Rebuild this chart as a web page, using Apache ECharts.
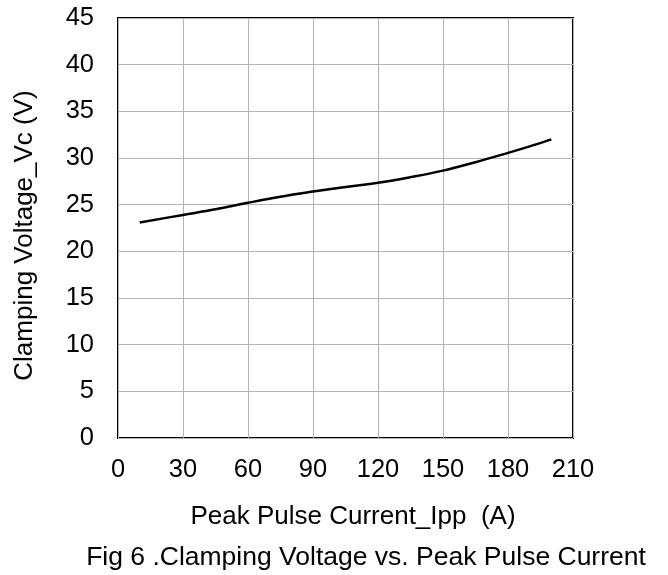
<!DOCTYPE html>
<html>
<head>
<meta charset="utf-8">
<script src="https://cdn.jsdelivr.net/npm/echarts@6/dist/echarts.min.js"></script>
<style>
html,body{margin:0;padding:0;background:#fff;}
#chart{width:668px;height:575px;}
</style>
</head>
<body>
<div id="chart"></div>
<script>
const currentA = [10, 30, 45, 60, 75, 90, 105, 120, 135, 150, 165, 180, 190, 200];
const voltageV = [23.1, 23.9, 24.5, 25.2, 25.85, 26.4, 26.9, 27.35, 27.95, 28.65, 29.55, 30.55, 31.25, 32.0];
const xTitle = 'Peak Pulse Current_Ipp  (A)';
const yTitle = 'Clamping Voltage_Vc (V)';
const caption = 'Fig 6 .Clamping Voltage vs. Peak Pulse Current';

const FONT = '"Liberation Sans", Arial, sans-serif';
const chart = echarts.init(document.getElementById('chart'), null, {renderer: 'canvas'});
chart.setOption({
  animation: false,
  backgroundColor: '#fff',
  grid: {left: 118, right: 95, top: 18, bottom: 137, show: true, borderColor: '#000', borderWidth: 2, backgroundColor: 'transparent'},
  xAxis: {
    type: 'value', min: 0, max: 210, interval: 30,
    axisLine: {show: false}, axisTick: {show: false},
    axisLabel: {color: '#000', fontSize: 25.5, fontFamily: FONT, margin: 19},
    splitLine: {show: true, lineStyle: {color: '#b3b3b3', width: 1}}
  },
  yAxis: {
    type: 'value', min: 0, max: 45, interval: 5,
    axisLine: {show: false}, axisTick: {show: false},
    axisLabel: {color: '#000', fontSize: 25.5, fontFamily: FONT, margin: 24},
    splitLine: {show: true, lineStyle: {color: '#b3b3b3', width: 1}}
  },
  series: [{
    type: 'line', data: currentA.map((x, i) => [x, voltageV[i]]),
    smooth: 0.4, showSymbol: false,
    lineStyle: {color: '#000', width: 2.5}
  }],
  graphic: [
    {type: 'text', x: 353, y: 517, style: {text: xTitle, fill: '#000', font: '26px ' + FONT, align: 'center', verticalAlign: 'middle'}},
    {type: 'text', x: 366, y: 558, style: {text: caption, fill: '#000', font: '26.5px ' + FONT, align: 'center', verticalAlign: 'middle'}},
    {type: 'text', x: 25, y: 235.5, rotation: Math.PI / 2, style: {text: yTitle, fill: '#000', font: '26px ' + FONT, align: 'center', verticalAlign: 'middle'}}
  ]
});
</script>
</body>
</html>
